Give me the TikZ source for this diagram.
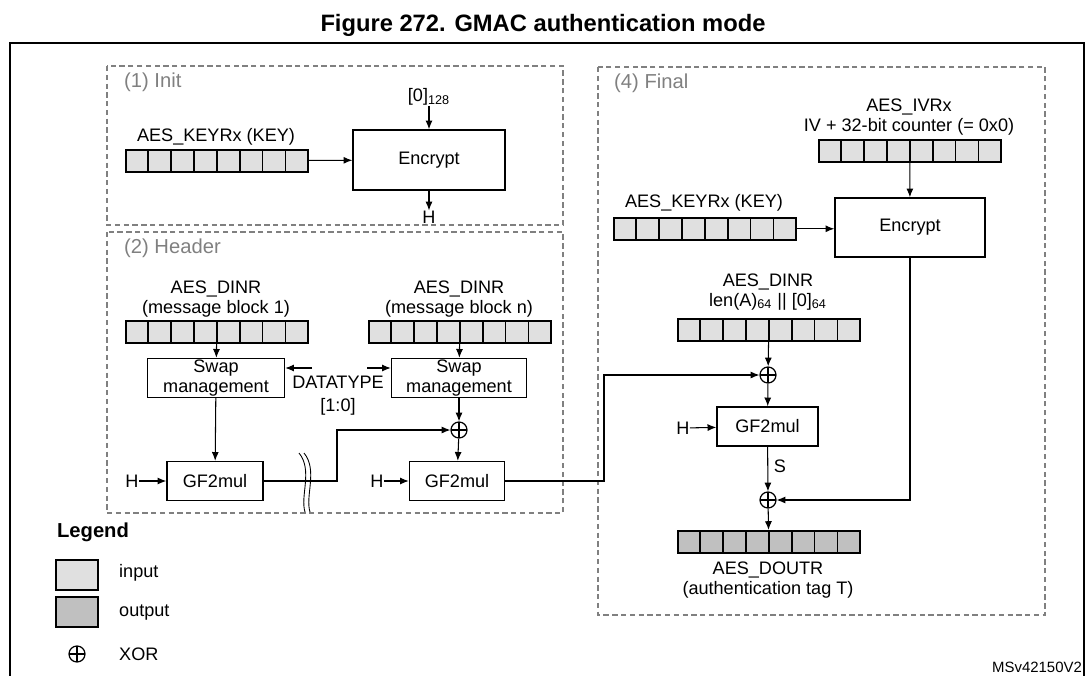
\documentclass[tikz,border=0pt]{standalone}
\usepackage{fontspec}
\setmainfont{Liberation Sans}
\usetikzlibrary{arrows.meta,calc}

\definecolor{regin}{HTML}{E0E0E0}
\definecolor{regout}{HTML}{C0C0C0}
\definecolor{phase}{HTML}{808080}

\tikzset{
	arr/.style={-{Latex[length=5pt,width=4pt]}, line width=0.6pt},
	blk/.style={rectangle, draw, line width=0.8pt, align=center, inner sep=0pt},
	reg/.style={rectangle, draw, line width=0.9pt, anchor=north west, minimum width=3.64cm, minimum height=0.44cm, inner sep=0pt},
	xor/.style={circle, draw, line width=0.7pt, minimum size=0.32cm, inner sep=0pt,
		path picture={\draw[line width=0.7pt] (path picture bounding box.north) -- (path picture bounding box.south)
			(path picture bounding box.west) -- (path picture bounding box.east);}},
	phasebox/.style={draw=phase, dash pattern=on 3pt off 2pt, line width=0.6pt},
	phaselbl/.style={text=phase, anchor=west, font=\fontsize{11.5}{13}\selectfont},
	lbl/.style={inner sep=0pt}
}

% register of 8 cells: name, west x, top y, fill
\newcommand\regbar[4]{%
	\node[reg, fill=#4] (#1) at (#2,#3) {};
	\foreach \i in {1,...,7}
		\draw[line width=0.9pt] ($(#1.north west)!\i/8!(#1.north east)$) -- ($(#1.south west)!\i/8!(#1.south east)$);
}

\begin{document}
\begin{tikzpicture}[x=0.02cm, y=-0.02cm, font=\fontsize{10.3}{12}\selectfont]
	\useasboundingbox (0,0) rectangle (1085,676);
	\node[font=\bfseries\fontsize{13.5}{15}\selectfont] (title) at (543,25) {Figure 272. GMAC authentication mode};
	\draw[line width=1pt] (10,690) -- (10,43) -- (1084,43) -- (1084,690);

	% phase frames
	\draw[phasebox] (107,66) rectangle (563,225);
	\draw[phasebox] (107,232) rectangle (563,513);
	\draw[phasebox] (598,67) rectangle (1045,615);
	\node[phaselbl] (pinit) at (118,82) {(1) Init};
	\node[phaselbl] (phdr) at (118,248) {(2) Header};
	\node[phaselbl] (pfin) at (608,83) {(4) Final};

	% (1) Init
	\node[lbl] (keyalbl) at (216,137) {AES\_KEYRx (KEY)};
	\regbar{keya}{125}{149}{regin}
	\node[blk, minimum width=3.04cm, minimum height=1.2cm] (enca) at (429,160) {Encrypt};
	\node[lbl] (zero) at (429,97) {[0]\textsubscript{128}};
	\node[lbl] (ha) at (429,217) {H};
	\draw[arr] (keya) -- (enca);
	\draw[arr] (zero) -- (enca);
	\draw[arr] (enca) -- (ha);

	% (2) Header
	\node[lbl, align=center] (dinalbl) at (216,299) {AES\_DINR\\[-1pt](message block 1)};
	\regbar{dina}{125}{320}{regin}
	\node[blk, minimum width=2.74cm, minimum height=0.78cm] (swapa) at (216,378) {Swap\\[-1pt]management};
	\node[lbl, align=center] (dinblbl) at (459,299) {AES\_DINR\\[-1pt](message block n)};
	\regbar{dinb}{368}{320}{regin}
	\node[blk, minimum width=2.7cm, minimum height=0.78cm] (swapb) at (459,378) {Swap\\[-1pt]management};
	\node[lbl, align=center] (dtype) at (338,396) {DATATYPE\\[1pt][1:0]};
	\coordinate (dtl) at (312,368);
	\coordinate (dtr) at (367,368);
	\draw[arr] (dtl) -- (swapa.east |- dtl);
	\draw[arr] (dtr) -- (swapb.west |- dtr);
	\node[xor] (xorb) at (459,430) {};
	\node[blk, minimum width=1.92cm, minimum height=0.78cm] (gfa) at (215,481) {GF2mul};
	\node[blk, minimum width=1.9cm, minimum height=0.78cm] (gfb) at (457,481) {GF2mul};
	\node[lbl] (hb) at (132,481) {H};
	\node[lbl] (hc) at (377,481) {H};
	\draw[arr] (dina) -- (swapa);
	\draw[arr] (swapa) -- (gfa);
	\draw[arr] (dinb) -- (swapb);
	\draw[arr] (swapb) -- (xorb);
	\draw[arr] (xorb) -- (gfb);
	\draw[arr] (hb) -- (gfa);
	\draw[arr] (hc) -- (gfb);
	\coordinate (bendb) at (337,481);
	\draw[arr] (gfa) -- (bendb) |- (xorb);
	\draw[line width=0.5pt] (299,453) .. controls (313,470) and (300,496) .. (305,512)
		(304,453) .. controls (318,470) and (305,496) .. (310,512);
	\coordinate (bendc) at (604,481);

	% (4) Final
	\node[lbl, align=center] (ivlbl) at (909,117) {AES\_IVRx\\[-1pt]IV + 32-bit counter (= 0x0)};
	\regbar{ivr}{818}{139}{regin}
	\node[lbl] (keyblbl) at (704,203) {AES\_KEYRx (KEY)};
	\regbar{keyb}{613}{217}{regin}
	\node[blk, minimum width=3cm, minimum height=1.18cm] (encb) at (910,227.5) {Encrypt};
	\draw[arr] (ivr) -- (encb);
	\draw[arr] (keyb) -- (encb.west |- keyb);
	\node[lbl, align=center] (dinclbl) at (768,292) {AES\_DINR\\[-1pt]len(A)\textsubscript{64} || [0]\textsubscript{64}};
	\regbar{dinc}{677}{318}{regin}
	\node[xor] (xorc) at (768,375) {};
	\node[blk, minimum width=2.02cm, minimum height=0.78cm] (gfc) at (767.5,426.5) {GF2mul};
	\node[lbl] (hd) at (683,428) {H};
	\node[xor] (xord) at (768,500) {};
	\node[lbl] (slbl) at (780,466) {S};
	\regbar{dout}{677}{530}{regout}
	\node[lbl, align=center] (doutlbl) at (768,580) {AES\_DOUTR\\[-1pt](authentication tag T)};
	\draw[arr] (gfb) -- (bendc) |- (xorc);
	\draw[arr] (dinc) -- (xorc);
	\draw[arr] (xorc) -- (gfc);
	\draw[arr] (hd) -- (gfc);
	\draw[arr] (gfc) -- (xord);
	\draw[arr] (encb) |- (xord);
	\draw[arr] (xord) -- (dout);

	% legend
	\node[font=\bfseries\fontsize{11.5}{13}\selectfont] (leg) at (93,532) {Legend};
	\node[rectangle, draw, line width=0.8pt, fill=regin, minimum width=0.84cm, minimum height=0.6cm] (legin) at (77,575) {};
	\node[rectangle, draw, line width=0.8pt, fill=regout, minimum width=0.84cm, minimum height=0.6cm] (legout) at (77,612) {};
	\node[xor] (legxor) at (77,654) {};
	\node[anchor=west] (tin) at (113,573) {input};
	\node[anchor=west] (tout) at (113,613) {output};
	\node[anchor=west] (txor) at (113,654) {XOR};
	\node[font=\fontsize{8.5}{10}\selectfont] (ref) at (1037,667) {MSv42150V2};
\end{tikzpicture}
\end{document}
